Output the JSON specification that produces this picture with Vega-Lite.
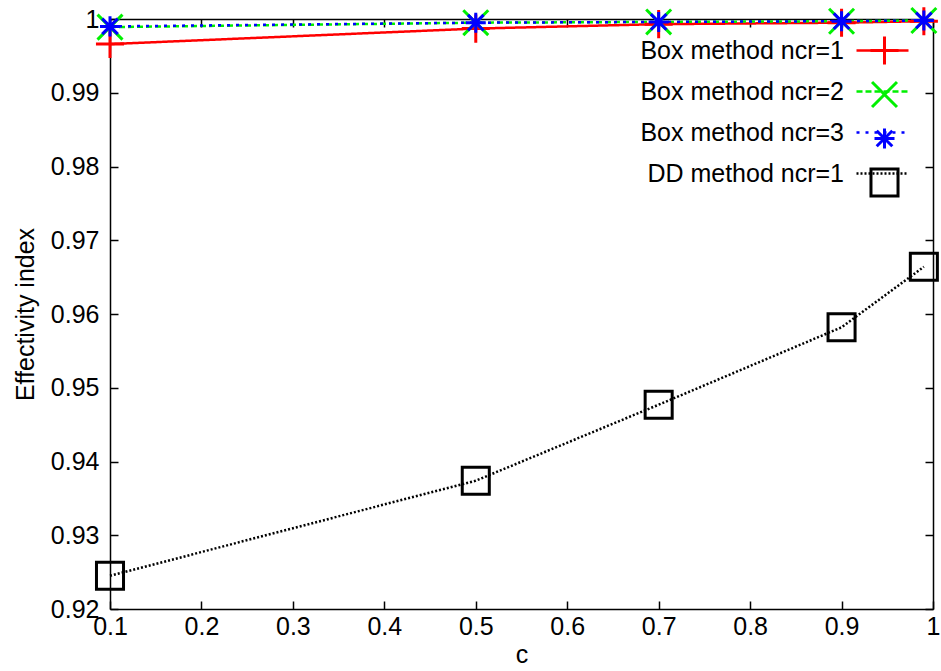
{
  "$schema": "https://vega.github.io/schema/vega-lite/v6.json",
  "width": 823,
  "height": 590,
  "autosize": {"type": "none"},
  "padding": {"left": 110, "top": 19, "right": 8, "bottom": 62},
  "background": "white",
  "config": {
    "view": {"stroke": null},
    "font": "Liberation Sans",
    "axis": {
      "grid": false,
      "domainColor": "black",
      "domainWidth": 1.5,
      "tickColor": "black",
      "tickWidth": 1.5,
      "tickSize": -8,
      "labelFont": "Liberation Sans",
      "labelFontSize": 25,
      "labelColor": "black",
      "labelFlush": false,
      "labelOverlap": false,
      "titleFont": "Liberation Sans",
      "titleFontSize": 25,
      "titleColor": "black",
      "titleFontWeight": "normal"
    },
    "legend": {
      "orient": "none",
      "legendY": 17,
      "title": null,
      "labelFont": "Liberation Sans",
      "labelFontSize": 25,
      "labelColor": "black",
      "labelLimit": 400,
      "labelAlign": "right",
      "gridAlign": "all",
      "symbolSize": 676,
      "symbolStrokeWidth": 2.5
    }
  },
  "data": {
    "values": [
      {"series": "Box method ncr=1", "c": 0.1, "index": 0.9966},
      {"series": "Box method ncr=1", "c": 0.5, "index": 0.9987},
      {"series": "Box method ncr=1", "c": 0.7, "index": 0.9993},
      {"series": "Box method ncr=1", "c": 0.9, "index": 0.9995},
      {"series": "Box method ncr=1", "c": 0.99, "index": 0.9997},
      {"series": "Box method ncr=2", "c": 0.1, "index": 0.9989},
      {"series": "Box method ncr=2", "c": 0.5, "index": 0.9995},
      {"series": "Box method ncr=2", "c": 0.7, "index": 0.9996},
      {"series": "Box method ncr=2", "c": 0.9, "index": 0.9997},
      {"series": "Box method ncr=2", "c": 0.99, "index": 0.9998},
      {"series": "Box method ncr=3", "c": 0.1, "index": 0.999},
      {"series": "Box method ncr=3", "c": 0.5, "index": 0.9995},
      {"series": "Box method ncr=3", "c": 0.7, "index": 0.9996},
      {"series": "Box method ncr=3", "c": 0.9, "index": 0.9997},
      {"series": "Box method ncr=3", "c": 0.99, "index": 0.9998},
      {"series": "DD method ncr=1", "c": 0.1, "index": 0.9245},
      {"series": "DD method ncr=1", "c": 0.5, "index": 0.9374},
      {"series": "DD method ncr=1", "c": 0.7, "index": 0.9477},
      {"series": "DD method ncr=1", "c": 0.9, "index": 0.9582},
      {"series": "DD method ncr=1", "c": 0.99, "index": 0.9664}
    ]
  },
  "layer": [
    {
      "mark": {"type": "line", "strokeWidth": 2.5},
      "encoding": {
        "x": {
          "field": "c", "type": "quantitative",
          "scale": {"domain": [0.1, 1], "nice": false, "zero": false},
          "axis": {"orient": "bottom", "values": [0.1, 0.2, 0.3, 0.4, 0.5, 0.6, 0.7, 0.8, 0.9, 1], "format": ".1~f", "labelPadding": 13, "title": "c", "titlePadding": 3}
        },
        "y": {
          "field": "index", "type": "quantitative",
          "scale": {"domain": [0.92, 1], "nice": false, "zero": false},
          "axis": {"orient": "left", "values": [0.92, 0.93, 0.94, 0.95, 0.96, 0.97, 0.98, 0.99, 1], "format": ".2~f", "labelPadding": 19, "title": "Effectivity index", "titlePadding": 12}
        },
        "color": {
          "field": "series", "type": "nominal",
          "scale": {"domain": ["Box method ncr=1", "Box method ncr=2", "Box method ncr=3", "DD method ncr=1"], "range": ["#ff0000", "#00f000", "#0000ff", "#000000"]},
          "legend": {"symbolType": "M-2,0H2", "legendX": 758, "labelOffset": -53, "rowPadding": 13}
        },
        "strokeDash": {
          "field": "series", "type": "nominal",
          "scale": {"domain": ["Box method ncr=1", "Box method ncr=2", "Box method ncr=3", "DD method ncr=1"], "range": [[1, 0], [6, 3], [3, 6], [2, 2]]},
          "legend": {"symbolType": "M-2,0H2", "legendX": 758, "labelOffset": -53, "rowPadding": 13}
        }
      }
    },
    {
      "mark": {"type": "point", "filled": false, "strokeWidth": 3, "size": 676, "opacity": 1},
      "encoding": {
        "x": {
          "field": "c", "type": "quantitative",
          "axis": {"orient": "top", "values": [0.1, 0.2, 0.3, 0.4, 0.5, 0.6, 0.7, 0.8, 0.9, 1], "labels": false, "title": null}
        },
        "y": {
          "field": "index", "type": "quantitative",
          "axis": {"orient": "right", "values": [0.92, 0.93, 0.94, 0.95, 0.96, 0.97, 0.98, 0.99, 1], "labels": false, "title": null}
        },
        "color": {
          "field": "series", "type": "nominal",
          "legend": {"labelOpacity": 0, "symbolStrokeWidth": 3, "legendX": 760, "labelOffset": -40, "rowPadding": 3}
        },
        "shape": {
          "field": "series", "type": "nominal",
          "scale": {
            "domain": ["Box method ncr=1", "Box method ncr=2", "Box method ncr=3", "DD method ncr=1"],
            "range": [
              "M-1.1,-1.1M1.1,1.1M-1.08,0H1.08M0,-1.08V1.08",
              "M-1.1,-1.1M1.1,1.1M-0.96,-0.96L0.96,0.96M-0.96,0.96L0.96,-0.96",
              "M-1.1,-1.1M1.1,1.1M-0.77,0H0.77M0,-0.77V0.77M-0.6,-0.6L0.6,0.6M-0.6,0.6L0.6,-0.6",
              "M-1.1,-1.1M1.1,1.1M-1.04,-1.04L1.04,-1.04L1.04,1.04L-1.04,1.04L-1.04,-1.04L0,-1.04"
            ]
          },
          "legend": {"labelOpacity": 0, "symbolStrokeWidth": 3, "legendX": 760, "labelOffset": -40, "rowPadding": 3}
        }
      }
    }
  ],
  "resolve": {
    "axis": {"x": "independent", "y": "independent"},
    "legend": {"color": "independent", "shape": "independent", "strokeDash": "independent"}
  }
}
